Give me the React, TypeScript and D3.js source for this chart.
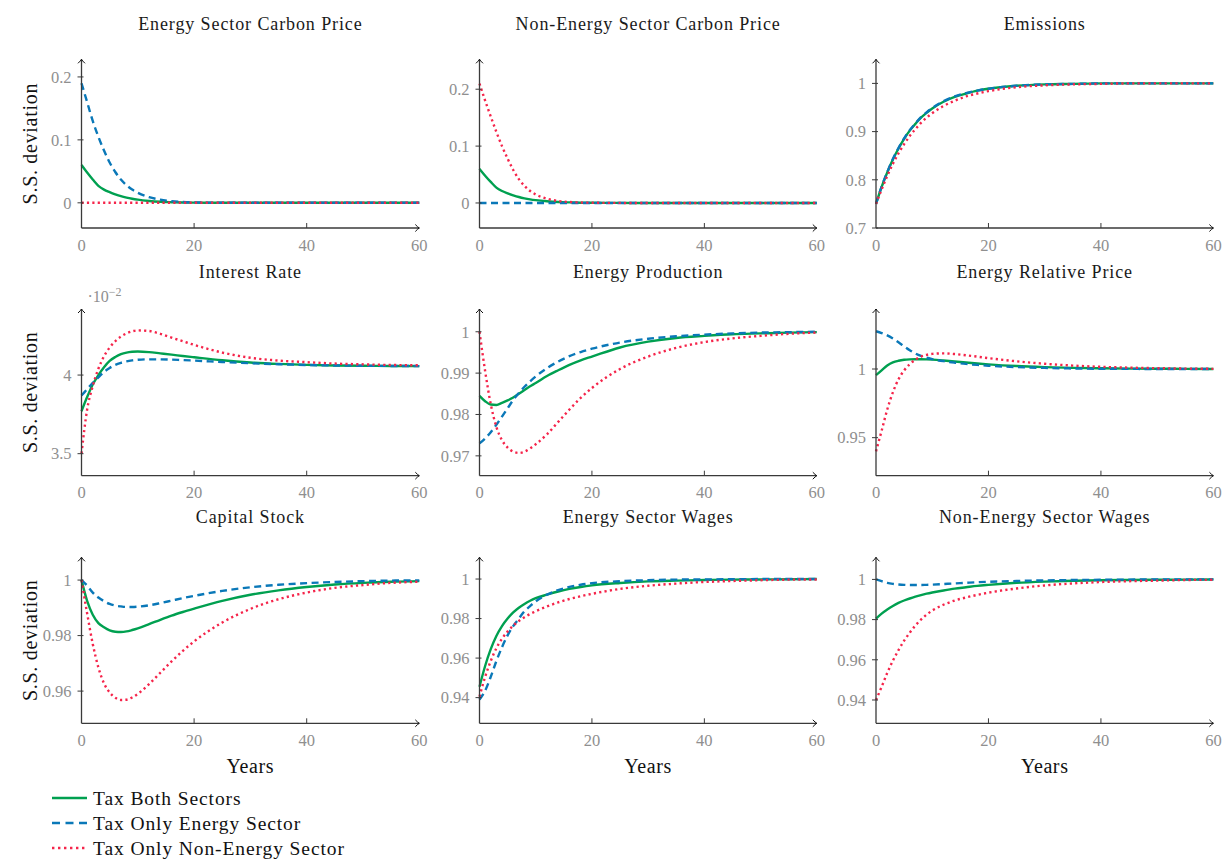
import React from 'react';
import * as d3 from 'd3';

// ---------- DATA ----------
const years = [0, 1, 2, 3, 4, 5, 6, 7, 8, 9, 10, 12, 14, 16, 18, 20, 25, 30, 35, 40, 45, 50, 55, 60];

const seriesNames = ['Tax Both Sectors', 'Tax Only Energy Sector', 'Tax Only Non-Energy Sector'];

const panelTitles = [
  'Energy Sector Carbon Price', 'Non-Energy Sector Carbon Price', 'Emissions',
  'Interest Rate', 'Energy Production', 'Energy Relative Price',
  'Capital Stock', 'Energy Sector Wages', 'Non-Energy Sector Wages',
];

const xTicks = [0, 20, 40, 60];

// Energy Sector Carbon Price
const ePriceBoth = [0.06, 0.048, 0.037, 0.027, 0.021, 0.017, 0.0135, 0.0105, 0.0082, 0.0064, 0.005, 0.003, 0.0017, 0.001, 0.0005, 0.0003, 0.0001, 0, 0, 0, 0, 0, 0, 0];
const ePriceEnergy = [0.19, 0.16, 0.13, 0.105, 0.083, 0.064, 0.049, 0.037, 0.028, 0.021, 0.016, 0.009, 0.005, 0.0027, 0.0014, 0.0007, 0.0001, 0, 0, 0, 0, 0, 0, 0];
const ePriceNonEnergy = [0, 0, 0, 0, 0, 0, 0, 0, 0, 0, 0, 0, 0, 0, 0, 0, 0, 0, 0, 0, 0, 0, 0, 0];

// Non-Energy Sector Carbon Price
const nPriceBoth = [0.06, 0.048, 0.037, 0.027, 0.021, 0.017, 0.0135, 0.0105, 0.0082, 0.0064, 0.005, 0.003, 0.0017, 0.001, 0.0005, 0.0003, 0.0001, 0, 0, 0, 0, 0, 0, 0];
const nPriceEnergy = [0, 0, 0, 0, 0, 0, 0, 0, 0, 0, 0, 0, 0, 0, 0, 0, 0, 0, 0, 0, 0, 0, 0, 0];
const nPriceNonEnergy = [0.21, 0.18, 0.152, 0.125, 0.1, 0.078, 0.058, 0.042, 0.03, 0.021, 0.015, 0.0075, 0.0035, 0.0017, 0.0008, 0.0004, 0.0001, 0, 0, 0, 0, 0, 0, 0];

// Emissions
const emisBoth = [0.75, 0.785, 0.815, 0.842, 0.865, 0.885, 0.902, 0.916, 0.929, 0.939, 0.948, 0.962, 0.972, 0.979, 0.985, 0.989, 0.995, 0.998, 0.999, 1.0, 1.0, 1.0, 1.0, 1.0];
const emisEnergy = [0.75, 0.786, 0.816, 0.843, 0.866, 0.886, 0.903, 0.917, 0.93, 0.94, 0.949, 0.963, 0.973, 0.98, 0.985, 0.989, 0.995, 0.998, 0.999, 1.0, 1.0, 1.0, 1.0, 1.0];
const emisNonEnergy = [0.75, 0.78, 0.808, 0.833, 0.855, 0.874, 0.891, 0.905, 0.918, 0.929, 0.938, 0.953, 0.964, 0.973, 0.979, 0.984, 0.992, 0.996, 0.998, 0.999, 1.0, 1.0, 1.0, 1.0];

// Interest Rate (x 10^-2)
const rateBoth = [3.77, 3.86, 3.94, 4.0, 4.05, 4.09, 4.115, 4.133, 4.143, 4.148, 4.15, 4.146, 4.138, 4.13, 4.121, 4.113, 4.094, 4.08, 4.071, 4.065, 4.061, 4.059, 4.058, 4.057];
const rateEnergy = [3.87, 3.91, 3.95, 3.985, 4.02, 4.045, 4.065, 4.078, 4.087, 4.093, 4.097, 4.1, 4.1, 4.098, 4.095, 4.092, 4.083, 4.075, 4.069, 4.064, 4.061, 4.059, 4.058, 4.057];
const rateNonEnergy = [3.5, 3.78, 3.93, 4.04, 4.12, 4.175, 4.215, 4.245, 4.265, 4.278, 4.284, 4.28, 4.262, 4.238, 4.215, 4.192, 4.143, 4.11, 4.092, 4.082, 4.073, 4.068, 4.064, 4.062];

// Energy Production
const prodBoth = [0.9845, 0.9832, 0.9824, 0.9823, 0.9828, 0.9834, 0.9841, 0.985, 0.9859, 0.9868, 0.9876, 0.9893, 0.9907, 0.992, 0.9931, 0.994, 0.9962, 0.9976, 0.9985, 0.999, 0.9994, 0.9996, 0.9998, 0.9999];
const prodEnergy = [0.973, 0.9742, 0.9757, 0.9775, 0.9795, 0.9815, 0.9835, 0.9852, 0.9867, 0.988, 0.9892, 0.9912, 0.9928, 0.9941, 0.9951, 0.9959, 0.9974, 0.9983, 0.9989, 0.9993, 0.9996, 0.9998, 0.9999, 1.0];
const prodNonEnergy = [1.0, 0.9905, 0.9825, 0.977, 0.9738, 0.972, 0.971, 0.9707, 0.971, 0.9718, 0.9728, 0.9752, 0.9782, 0.9812, 0.984, 0.9864, 0.991, 0.994, 0.9961, 0.9975, 0.9984, 0.999, 0.9995, 0.9998];

// Energy Relative Price
const relBoth = [0.9955, 0.999, 1.0025, 1.0048, 1.006, 1.0067, 1.007, 1.0071, 1.0071, 1.007, 1.0068, 1.0062, 1.0055, 1.0047, 1.004, 1.0034, 1.0022, 1.0014, 1.0008, 1.0005, 1.0003, 1.0002, 1.0001, 1.0];
const relEnergy = [1.0275, 1.0262, 1.0245, 1.0222, 1.0195, 1.0165, 1.0137, 1.0113, 1.0095, 1.0082, 1.0072, 1.0057, 1.0046, 1.0037, 1.003, 1.0024, 1.0014, 1.0008, 1.0004, 1.0002, 1.0001, 1.0, 1.0, 1.0];
const relNonEnergy = [0.94, 0.955, 0.9705, 0.983, 0.9925, 0.999, 1.0035, 1.0068, 1.009, 1.0103, 1.011, 1.0114, 1.0109, 1.01, 1.009, 1.0079, 1.0056, 1.0038, 1.0025, 1.0016, 1.001, 1.0006, 1.0003, 1.0001];

// Capital Stock
const capBoth = [1.0, 0.9925, 0.9875, 0.9845, 0.983, 0.9819, 0.9814, 0.9813, 0.9815, 0.982, 0.9826, 0.9841, 0.9857, 0.9872, 0.9885, 0.9897, 0.9925, 0.9947, 0.9963, 0.9975, 0.9984, 0.999, 0.9994, 0.9996];
const capEnergy = [1.0, 0.998, 0.9955, 0.9937, 0.9924, 0.9914, 0.9908, 0.9905, 0.9903, 0.9903, 0.9904, 0.9909, 0.9917, 0.9926, 0.9935, 0.9943, 0.9961, 0.9974, 0.9983, 0.9989, 0.9993, 0.9996, 0.9998, 0.9999];
const capNonEnergy = [1.0, 0.988, 0.977, 0.9685, 0.9628, 0.9595, 0.9576, 0.9568, 0.9569, 0.9577, 0.959, 0.9625, 0.9666, 0.9707, 0.9745, 0.9779, 0.9847, 0.9896, 0.9931, 0.9955, 0.9972, 0.9982, 0.999, 0.9994];

// Energy Sector Wages
const eWageBoth = [0.9455, 0.956, 0.9645, 0.9712, 0.9762, 0.98, 0.9831, 0.9855, 0.9874, 0.989, 0.9903, 0.9921, 0.9937, 0.995, 0.996, 0.9968, 0.998, 0.9988, 0.9992, 0.9995, 0.9997, 0.9998, 0.9999, 1.0];
const eWageEnergy = [0.939, 0.9435, 0.9505, 0.9585, 0.9655, 0.9715, 0.9762, 0.98, 0.9837, 0.9863, 0.9887, 0.9921, 0.9944, 0.996, 0.9971, 0.9979, 0.9989, 0.9994, 0.9997, 0.9998, 0.9999, 1.0, 1.0, 1.0];
const eWageNonEnergy = [0.9405, 0.9505, 0.9585, 0.965, 0.9698, 0.9735, 0.9764, 0.9788, 0.9807, 0.9823, 0.9837, 0.9861, 0.9882, 0.9899, 0.9913, 0.9925, 0.995, 0.9966, 0.9977, 0.9985, 0.999, 0.9994, 0.9997, 0.9998];

// Non-Energy Sector Wages
const nWageBoth = [0.9805, 0.983, 0.985, 0.9868, 0.9883, 0.9895, 0.9905, 0.9914, 0.9922, 0.9929, 0.9935, 0.9945, 0.9954, 0.9961, 0.9968, 0.9973, 0.9983, 0.9989, 0.9993, 0.9996, 0.9997, 0.9998, 0.9999, 1.0];
const nWageEnergy = [1.0, 0.9991, 0.9983, 0.9978, 0.9975, 0.9973, 0.9972, 0.9972, 0.9972, 0.9973, 0.9974, 0.9977, 0.998, 0.9983, 0.9986, 0.9988, 0.9992, 0.9995, 0.9997, 0.9998, 0.9999, 1.0, 1.0, 1.0];
const nWageNonEnergy = [0.94, 0.9465, 0.9535, 0.9595, 0.9648, 0.9695, 0.9735, 0.977, 0.98, 0.9825, 0.9845, 0.9874, 0.9895, 0.991, 0.9923, 0.9934, 0.9955, 0.997, 0.998, 0.9987, 0.9991, 0.9994, 0.9997, 0.9998];

// y axis domains and ticks per panel
const yDomains: [number, number][] = [
  [-0.04, 0.228], [-0.044, 0.2526], [0.7, 1.05],
  [3.36, 4.42], [0.9652, 1.0055], [0.9223, 1.0437],
  [0.9484, 1.0082], [0.927, 1.011], [0.9284, 1.011],
];
const yTicksList: number[][] = [
  [0, 0.1, 0.2], [0, 0.1, 0.2], [0.7, 0.8, 0.9, 1],
  [3.5, 4], [0.97, 0.98, 0.99, 1], [0.95, 1],
  [0.96, 0.98, 1], [0.94, 0.96, 0.98, 1], [0.94, 0.96, 0.98, 1],
];

const panelData: number[][][] = [
  [ePriceBoth, ePriceEnergy, ePriceNonEnergy],
  [nPriceBoth, nPriceEnergy, nPriceNonEnergy],
  [emisBoth, emisEnergy, emisNonEnergy],
  [rateBoth, rateEnergy, rateNonEnergy],
  [prodBoth, prodEnergy, prodNonEnergy],
  [relBoth, relEnergy, relNonEnergy],
  [capBoth, capEnergy, capNonEnergy],
  [eWageBoth, eWageEnergy, eWageNonEnergy],
  [nWageBoth, nWageEnergy, nWageNonEnergy],
];

// ---------- STYLE / LAYOUT ----------
const COLORS = ['#00a050', '#0a78b8', '#f5244a'];
const DASHES = ['none', '7 4.5', '2.2 3.2'];
const FONT = "'Liberation Serif', 'DejaVu Serif', serif";
const TICK_COLOR = '#8f8f8f';
const AXIS_COLOR = '#3a3a3a';

const colX = [[81.5, 419.3], [479.5, 816.8], [876, 1213.4]];
const rowY = [[59.3, 228], [309, 475.7], [557.3, 723.3]];
const titleY = [30, 278, 523];

function fmt(v: number) {
  return String(+v.toFixed(4));
}

const txt = (size: number, fill: string, spacing = 0) => ({
  fontFamily: FONT, fontSize: `${size}px`, fill, letterSpacing: `${spacing}px`,
});

function Panel({ idx }: { idx: number }) {
  const col = idx % 3;
  const row = Math.floor(idx / 3);
  const [x0, x1] = colX[col];
  const [yTop, yBot] = rowY[row];
  const x = d3.scaleLinear().domain([0, 60]).range([x0, x1]);
  const y = d3.scaleLinear().domain(yDomains[idx]).range([yBot, yTop]);
  const line = d3.line<number>()
    .x((_, i) => x(years[i]))
    .y((d) => y(d))
    .curve(d3.curveMonotoneX);
  const cx = (x0 + x1) / 2;
  const cy = (yTop + yBot) / 2;
  return (
    <g>
      <text x={cx} y={titleY[row]} textAnchor="middle" style={txt(18, '#1a1a1a', 0.9)}>
        {panelTitles[idx]}
      </text>
      <clipPath id={`clip${idx}`}>
        <rect x={x0 - 2} y={yTop - 2} width={x1 - x0 + 4} height={yBot - yTop + 4} />
      </clipPath>
      <g clipPath={`url(#clip${idx})`}>
        {panelData[idx].map((s, k) => (
          <path key={k} d={line(s) || ''} fill="none" stroke={COLORS[k]} strokeWidth={2.4}
            strokeDasharray={DASHES[k]} strokeLinejoin="round" />
        ))}
      </g>
      <line x1={x0} y1={yBot} x2={x1} y2={yBot} stroke={AXIS_COLOR} strokeWidth={1.3} />
      <line x1={x0} y1={yBot} x2={x0} y2={yTop} stroke={AXIS_COLOR} strokeWidth={1.3} />
      <path d={`M${x1 - 4},${yBot - 3.5} Q${x1 - 1.5},${yBot - 0.8} ${x1},${yBot} Q${x1 - 1.5},${yBot + 0.8} ${x1 - 4},${yBot + 3.5}`}
        fill="none" stroke="#111" strokeWidth={1} />
      <path d={`M${x0 - 3.5},${yTop + 4} Q${x0 - 0.8},${yTop + 1.5} ${x0},${yTop} Q${x0 + 0.8},${yTop + 1.5} ${x0 + 3.5},${yTop + 4}`}
        fill="none" stroke="#111" strokeWidth={1} />
      {xTicks.map((t) => (
        <g key={t}>
          {t > 0 && t < 60 && (
            <line x1={x(t)} x2={x(t)} y1={yBot - 5} y2={yBot} stroke={AXIS_COLOR} strokeWidth={1} />
          )}
          <text x={x(t)} y={yBot + 22.5} textAnchor="middle" style={txt(16.5, TICK_COLOR)}>
            {t}
          </text>
        </g>
      ))}
      {yTicksList[idx].map((t) => (
        <g key={t}>
          <line x1={x0 - 4} x2={x0 + 2} y1={y(t)} y2={y(t)} stroke={AXIS_COLOR} strokeWidth={1} />
          <text x={x0 - 10} y={y(t)} dy="0.35em" textAnchor="end" style={txt(16.5, TICK_COLOR)}>
            {fmt(t)}
          </text>
        </g>
      ))}
      {idx === 3 && (
        <text x={x0 + 6} y={yTop - 7} style={txt(16, TICK_COLOR)}>
          {'·10'}
          <tspan dy={-6} style={{ fontSize: '12px' }}>{'−2'}</tspan>
        </text>
      )}
      {col === 0 && (
        <text transform={`translate(${30},${cy}) rotate(-90)`} dy="0.35em" textAnchor="middle"
          style={txt(20, '#111', 0.7)}>
          S.S. deviation
        </text>
      )}
      {row === 2 && (
        <text x={cx} y={yBot + 50} textAnchor="middle" style={txt(20, '#111', 0.6)}>
          Years
        </text>
      )}
    </g>
  );
}

export default function App() {
  return (
    <svg width={1224} height={859} style={{ position: 'absolute', left: 0, top: 0, background: '#fff' }}>
      <rect width={1224} height={859} fill="#fff" />
      {panelTitles.map((_, i) => (
        <Panel key={i} idx={i} />
      ))}
      {seriesNames.map((name, k) => (
        <g key={name}>
          <line x1={52} x2={87} y1={798 + 25 * k} y2={798 + 25 * k} stroke={COLORS[k]} strokeWidth={2.4}
            strokeDasharray={k === 1 ? '8 5.5' : k === 2 ? '2.4 3.6' : 'none'} />
          <text x={93} y={798 + 25 * k} dy="0.35em" style={txt(19.5, '#111', 0.9)}>
            {name}
          </text>
        </g>
      ))}
    </svg>
  );
}
